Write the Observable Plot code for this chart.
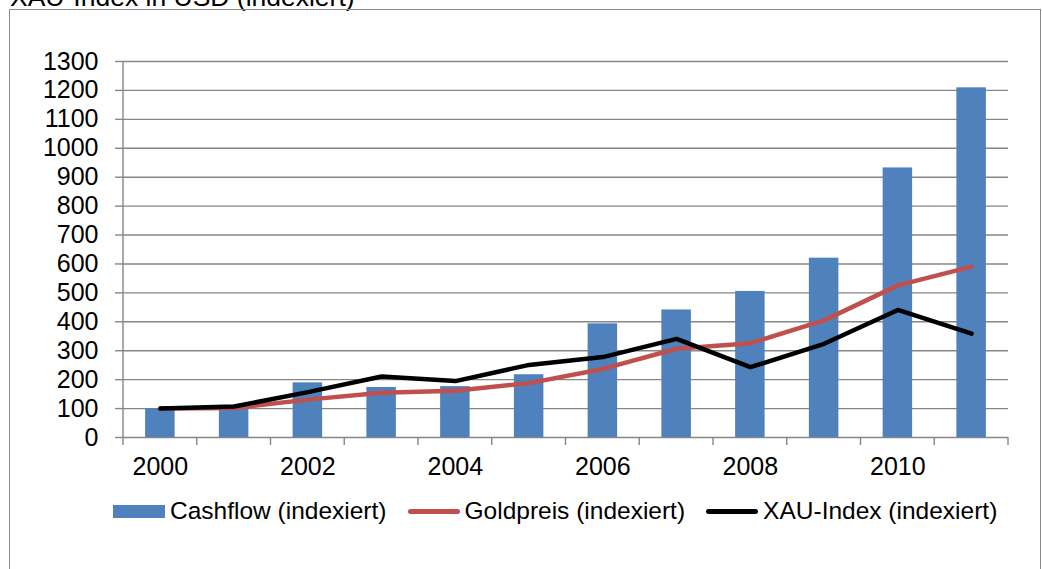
<!DOCTYPE html>
<html>
<head>
<meta charset="utf-8">
<script src="https://cdn.jsdelivr.net/npm/d3@7"></script>
<script src="https://cdn.jsdelivr.net/npm/@observablehq/plot@0.6"></script>
<style>
  html, body { margin: 0; padding: 0; background: #fff; overflow: hidden; }
  body { width: 1042px; height: 569px; position: relative; font-family: "Liberation Sans", Arial, sans-serif; }
  #title { position: absolute; left: 10px; top: -18px; font-size: 26.5px; line-height: 30px; color: #000; white-space: nowrap; }
  #border { position: absolute; left: 9px; top: 9px; width: 1032px; height: 600px; border: 1.5px solid #8a8a8a; box-sizing: border-box; }
  #chart { position: absolute; left: 0; top: 0; }
  #legend { position: absolute; left: 113px; top: 497px; font-size: 24.5px; color: #000; white-space: nowrap; display: flex; align-items: center; }
  .item { display: flex; align-items: center; margin-right: 21px; }
  .sw { display: inline-block; width: 52px; margin-right: 5px; }
</style>
</head>
<body>
<div id="title">XAU-Index in USD (indexiert)</div>
<div id="border"></div>
<div id="chart"></div>
<div id="legend"></div>
<script>
const years = [2000, 2001, 2002, 2003, 2004, 2005, 2006, 2007, 2008, 2009, 2010, 2011];
const cashflow = [100, 101, 189, 173, 176, 217, 393, 441, 505, 620, 932, 1209];
const goldpreis = [100, 102, 131, 155, 162, 188, 237, 307, 326, 405, 526, 591];
const xauIndex = [100, 107, 157, 211, 195, 251, 278, 341, 243, 324, 441, 359];
const yTicks = [0, 100, 200, 300, 400, 500, 600, 700, 800, 900, 1000, 1100, 1200, 1300];
const xTickLabels = [2000, 2002, 2004, 2006, 2008, 2010];
const seriesNames = ["Cashflow (indexiert)", "Goldpreis (indexiert)", "XAU-Index (indexiert)"];
const colors = ["#4f81bd", "#c0504d", "#000000"];

const rows = years.map((year, i) => ({year, cashflow: cashflow[i], gold: goldpreis[i], xau: xauIndex[i]}));

const grey = "#868686";

// custom axis lines: y-axis line and x tick marks at band boundaries
const axisLines = (index, scales, values, dimensions) => {
  const x = scales.x, y = scales.y;
  const step = x.step();
  const start = x(years[0]) - x.paddingOuter() * step;
  const g = d3.create("svg:g").attr("stroke", grey).attr("stroke-width", 1.4).attr("fill", "none");
  g.append("line").attr("x1", start).attr("x2", start).attr("y1", y(0)).attr("y2", y(1300));
  for (let k = 0; k <= years.length; k++) {
    const xx = start + k * step;
    g.append("line").attr("x1", xx).attr("x2", xx).attr("y1", y(0)).attr("y2", y(0) + 8);
  }
  return g.node();
};

const chart = Plot.plot({
  width: 1042,
  height: 480,
  marginLeft: 123,
  marginRight: 34,
  marginTop: 61,
  marginBottom: 43,
  style: {fontFamily: "Liberation Sans, Arial, sans-serif", fontSize: "25px", color: "#000", background: "transparent", overflow: "visible"},
  x: {type: "band", domain: years, paddingInner: 0.6, paddingOuter: 0.3, align: 0.5, round: false, label: null},
  y: {domain: [0, 1300], label: null},
  marks: [
    Plot.gridY(yTicks, {stroke: grey, strokeOpacity: 1, strokeWidth: 1.4}),
    Plot.barY(rows, {x: "year", y: "cashflow", fill: colors[0]}),
    Plot.line(rows, {x: "year", y: "gold", stroke: colors[1], strokeWidth: 4.5, strokeLinecap: "round", strokeLinejoin: "round"}),
    Plot.line(rows, {x: "year", y: "xau", stroke: colors[2], strokeWidth: 4.5, strokeLinecap: "round", strokeLinejoin: "round"}),
    axisLines,
    Plot.axisY(yTicks, {tickSize: 8, tickPadding: 17, tickFormat: d => String(d), stroke: grey, strokeWidth: 1.4, label: null, fill: "#000", fontSize: 25}),
    Plot.axisX(xTickLabels, {tickSize: 0, tickPadding: 20, tickFormat: d => String(d), label: null, fill: "#000", fontSize: 25})
  ]
});
document.getElementById("chart").appendChild(chart);

// legend
const legend = document.getElementById("legend");
seriesNames.forEach((name, i) => {
  const item = document.createElement("div");
  item.className = "item";
  const sw = document.createElement("span");
  sw.className = "sw";
  if (i === 0) { sw.style.height = "13px"; sw.style.background = colors[i]; }
  else { sw.style.height = "5px"; sw.style.background = colors[i]; sw.style.borderRadius = "3px"; }
  const t = document.createElement("span");
  t.textContent = name;
  item.appendChild(sw);
  item.appendChild(t);
  legend.appendChild(item);
});
</script>
</body>
</html>
